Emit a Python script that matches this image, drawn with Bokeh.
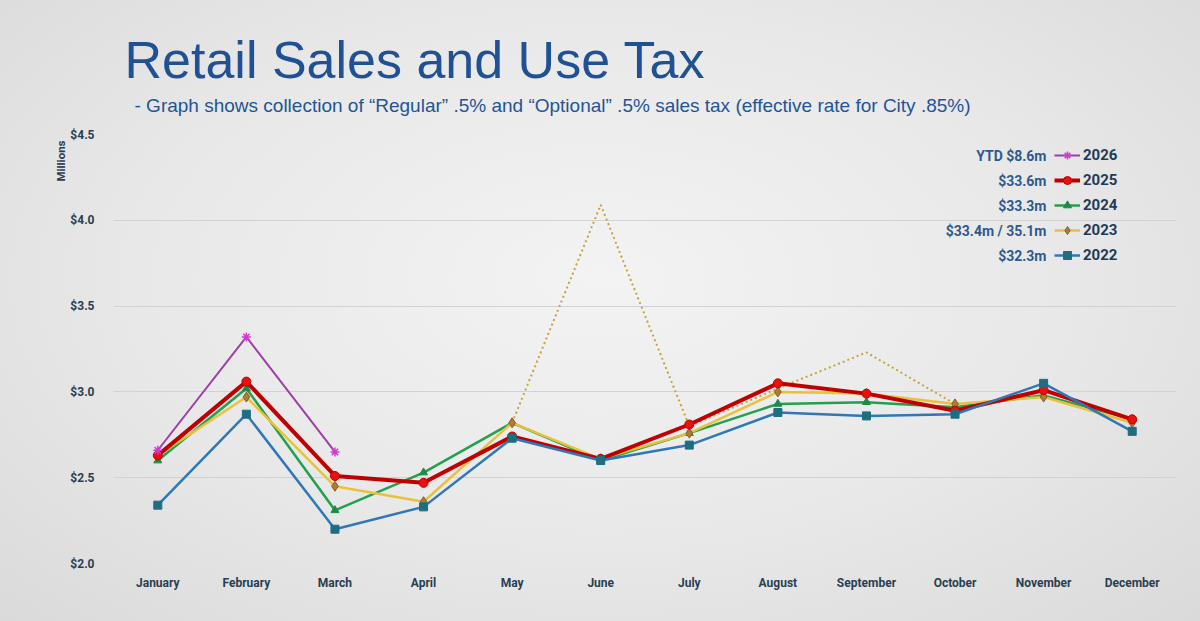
from bokeh.embed import file_html
from bokeh.models import FactorRange, Label, Legend, LegendItem, NumeralTickFormatter, FixedTicker, Title
from bokeh.plotting import figure
from bokeh.resources import INLINE

# ---- data (millions of dollars per month) ----
months = ["January", "February", "March", "April", "May", "June", "July",
          "August", "September", "October", "November", "December"]

sales_2026 = [2.66, 3.32, 2.65]
sales_2025 = [2.63, 3.06, 2.51, 2.47, 2.74, 2.61, 2.81, 3.05, 2.99, 2.89, 3.01, 2.84]
sales_2024 = [2.60, 3.02, 2.31, 2.53, 2.82, 2.60, 2.76, 2.93, 2.94, 2.91, 2.98, 2.84]
sales_2023 = [2.63, 2.97, 2.45, 2.36, 2.82, 2.61, 2.76, 3.00, 2.99, 2.93, 2.97, 2.82]
sales_2022 = [2.34, 2.87, 2.20, 2.33, 2.73, 2.60, 2.69, 2.88, 2.86, 2.87, 3.05, 2.77]

# 2023 including one-time adjustments (May - October)
adj_months_2023 = ["May", "June", "July", "August", "September", "October"]
adj_sales_2023 = [2.82, 4.09, 2.80, 3.02, 3.23, 2.93]

legend_years = ["2026", "2025", "2024", "2023", "2022"]
legend_totals = ["YTD $8.6m", "$33.6m", "$33.3m", "$33.4m / 35.1m", "$32.3m"]

y_ticks = [2.0, 2.5, 3.0, 3.5, 4.0, 4.5]

# ---- figure ----
W, H = 1200, 621
LEFT, RIGHT, TOP, BOTTOM = 113, 24, 134, 58

p = figure(width=W, height=H, x_range=FactorRange(*months), y_range=(2.0, 4.5),
           output_backend="svg", toolbar_location=None,
           min_border_left=LEFT, min_border_right=RIGHT,
           min_border_top=TOP, min_border_bottom=BOTTOM)
p.styles = {"background": "radial-gradient(ellipse at 50% 45%, #f3f3f3 0%, #e8e8e8 55%, #dadada 100%)"}
p.border_fill_alpha = 0
p.background_fill_alpha = 0
p.outline_line_color = None

p.xgrid.grid_line_color = None
p.ygrid.grid_line_color = "#d2d2d2"
p.ygrid.grid_line_width = 1

tick_color = "#2a3e50"
p.yaxis.ticker = FixedTicker(ticks=y_ticks)
p.yaxis.formatter = NumeralTickFormatter(format="$0.0")
for ax in (p.xaxis[0], p.yaxis[0]):
    ax.axis_line_color = None
    ax.major_tick_line_color = None
    ax.minor_tick_line_color = None
    ax.major_label_text_font = "Roboto"
    ax.major_label_text_font_style = "bold"
    ax.major_label_text_color = tick_color
p.yaxis.major_label_text_font_size = "12px"
p.yaxis.major_label_standoff = 13
p.xaxis.major_label_text_font_size = "12px"
p.xaxis.major_label_standoff = 6

# ---- series ----
r23adj = p.line(adj_months_2023, adj_sales_2023, line_color="#c9a23a", line_width=2, line_dash="2 3")

l24 = p.line(months, sales_2024, line_color="#22a04f", line_width=2.5)
m24 = p.scatter(months, sales_2024, marker="triangle", size=8, fill_color="#1e8a48", line_color="#1e8a48")

l23 = p.line(months, sales_2023, line_color="#e8c23e", line_width=2.5)
m23 = p.scatter(months, sales_2023, marker="diamond", size=10, fill_color="#b27a32", line_color="#86601e")

l25 = p.line(months, sales_2025, line_color="#c00000", line_width=4)
m25 = p.scatter(months, sales_2025, marker="circle", size=9, fill_color="#e81010", line_color="#c00000")

l22 = p.line(months, sales_2022, line_color="#2e78b8", line_width=2.5)
m22 = p.scatter(months, sales_2022, marker="square", size=8, fill_color="#1f6e80", line_color="#1f6e80")

l26 = p.line(months[:len(sales_2026)], sales_2026, line_color="#9c3fa6", line_width=2)
m26 = p.scatter(months[:len(sales_2026)], sales_2026, marker="asterisk", size=9, line_color="#d03ad0", line_width=1.5)

# ---- legend ----
renderers = {"2026": [l26, m26], "2025": [l25, m25], "2024": [l24, m24],
             "2023": [l23, m23], "2022": [l22, m22]}
legend = Legend(items=[LegendItem(label=y, renderers=renderers[y]) for y in legend_years],
                location=(941, 298), orientation="vertical",
                glyph_width=26, glyph_height=20, label_height=20, spacing=5,
                padding=0, margin=0, label_standoff=3,
                label_text_font="Roboto", label_text_font_style="bold",
                label_text_font_size="15px", label_text_color="#1f3a56",
                border_line_alpha=0, background_fill_alpha=0)
p.add_layout(legend)

frame_h = H - TOP - BOTTOM
for i, txt in enumerate(legend_totals):
    p.add_layout(Label(x=933, y=frame_h - 21 - 25 * i, x_units="screen", y_units="screen",
                       text=txt, text_align="right", text_baseline="middle",
                       text_font="Roboto", text_font_style="bold", text_font_size="14px",
                       text_color="#2d5a8e"))

# ---- titles (stacked above the frame: spacer, subtitle, main title) ----
p.add_layout(Title(text=" ", text_font_size="16px", standoff=0), "above")
p.add_layout(Title(text="- Graph shows collection of \u201cRegular\u201d .5% and \u201cOptional\u201d .5% sales tax (effective rate for City .85%)",
                   text_font="Liberation Sans", text_font_size="19px", text_font_style="normal",
                   text_color="#1f5496", align="left", offset=21, standoff=0), "above")
p.add_layout(Title(text="Retail Sales and Use Tax", text_font="Liberation Sans",
                   text_font_size="52px", text_font_style="normal", text_color="#1f5193",
                   align="left", offset=11, standoff=7), "above")

# unit caption at the top of the value axis
p.add_layout(Title(text="Millions", text_font="Roboto", text_font_size="11.5px",
                   text_font_style="bold", text_color="#2a3e50",
                   align="right", offset=6, standoff=0), "left")

open("out.html", "w").write(file_html(p, INLINE))
